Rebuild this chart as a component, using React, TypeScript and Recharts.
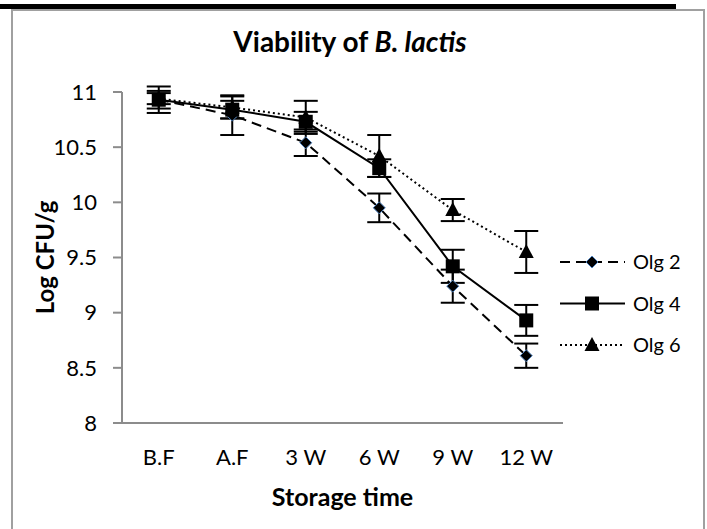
import React from 'react';
import { LineChart, Line, XAxis, YAxis, ErrorBar, Label } from 'recharts';

const categories = ['B.F', 'A.F', '3 W', '6 W', '9 W', '12 W'];
const olg2 = [10.93, 10.79, 10.54, 9.95, 9.24, 8.61];
const olg2Err = [0.12, 0.18, 0.12, 0.13, 0.15, 0.11];
const olg4 = [10.93, 10.84, 10.73, 10.31, 9.42, 8.93];
const olg4Err = [0.08, 0.08, 0.09, 0.08, 0.15, 0.14];
const olg6 = [10.94, 10.86, 10.77, 10.42, 9.93, 9.55];
const olg6Err = [0.05, 0.1, 0.15, 0.19, 0.1, 0.19];
const yTicks = [8, 8.5, 9, 9.5, 10, 10.5, 11];

const data = categories.map((name, i) => ({
  name,
  olg2: olg2[i],
  e2: olg2Err[i],
  olg4: olg4[i],
  e4: olg4Err[i],
  olg6: olg6[i],
  e6: olg6Err[i],
}));

const FONT = 'Lato, "Open Sans", sans-serif';
const AXIS = '#8c8c8c';

const Diamond = ({ cx, cy }: any) => (
  <path d={`M${cx},${cy - 6} L${cx + 6},${cy} L${cx},${cy + 6} L${cx - 6},${cy} Z`} fill="#000" stroke="#4f81bd" strokeWidth={1} />
);
const Square = ({ cx, cy }: any) => (
  <rect x={cx - 7} y={cy - 7} width={14} height={14} fill="#000" />
);
const Triangle = ({ cx, cy }: any) => (
  <path d={`M${cx},${cy - 8} L${cx + 7.5},${cy + 6} L${cx - 7.5},${cy + 6} Z`} fill="#000" />
);

const series = [
  { key: 'olg2', err: 'e2', name: 'Olg 2', dash: '10 6', Marker: Diamond },
  { key: 'olg4', err: 'e4', name: 'Olg 4', dash: undefined, Marker: Square },
  { key: 'olg6', err: 'e6', name: 'Olg 6', dash: '2 3', Marker: Triangle },
];

// legend drawn beside the plot, Excel style
const LegendBox = () => (
  <svg width={140} height={120} style={{ fontFamily: FONT, display: 'block' }}>
    {series.map((s, i) => {
      const y = 17 + i * 41.5;
      const M = s.Marker;
      return (
        <g key={s.key}>
          <line x1={0} x2={65} y1={y} y2={y} stroke="#000" strokeWidth={2} strokeDasharray={s.dash} />
          <M cx={32} cy={y} />
          <text x={73} y={y} dy="0.35em" fontSize={20} fill="#000">{s.name}</text>
        </g>
      );
    })}
  </svg>
);

export default function App() {
  return (
    <div style={{ position: 'absolute', left: 0, top: 0, width: 707, height: 529, background: '#fff', overflow: 'hidden' }}>
      <div style={{ position: 'absolute', left: 0, top: 4, width: 676, height: 5, background: '#000' }} />
      <div style={{ position: 'absolute', left: 11, top: 9, width: 690, height: 540, border: '2px solid #a0a0a0' }} />
      <div
        style={{
          position: 'absolute', left: 0, top: 24, width: 700, textAlign: 'center', lineHeight: 'normal',
          fontFamily: FONT, fontWeight: 'bold', fontSize: 28, color: '#000',
        }}
      >
        Viability of <i>B. lactis</i>
      </div>
      <div style={{ position: 'absolute', left: 0, top: 0 }}>
        <LineChart width={707} height={529} data={data} margin={{ top: 92, right: 144, bottom: 76, left: 12 }}>
          <XAxis
            dataKey="name"
            stroke={AXIS}
            strokeWidth={2}
            tickLine={false}
            tickSize={0}
            tickMargin={26}
            height={30}
            padding={{ left: 36.75, right: 36.75 }}
            tick={{ fill: '#000', fontSize: 22, fontFamily: FONT }}
          >
            <Label value="Storage time" position="bottom" offset={35} fill="#000" fontSize={25} fontWeight="bold" fontFamily={FONT} />
          </XAxis>
          <YAxis
            domain={[8, 11]}
            ticks={yTicks}
            allowDataOverflow
            width={110}
            stroke={AXIS}
            strokeWidth={2}
            tickSize={9}
            tickMargin={16}
            tick={{ fill: '#000', fontSize: 22, fontFamily: FONT }}
          >
            <Label value="Log CFU/g" angle={-90} position="center" dx={-22} fill="#000" fontSize={24} fontWeight="bold" fontFamily={FONT} />
          </YAxis>
          {series.map((s) => (
            <Line
              key={s.key}
              dataKey={s.key}
              name={s.name}
              stroke="#000"
              strokeWidth={2}
              strokeDasharray={s.dash}
              dot={(p: any) => <s.Marker key={`${s.key}-${p.index}`} cx={p.cx} cy={p.cy} />}
              activeDot={false}
              isAnimationActive={false}
            >
              <ErrorBar dataKey={s.err} width={12} stroke="#000" strokeWidth={2} direction="y" />
            </Line>
          ))}
        </LineChart>
      </div>
      <div style={{ position: 'absolute', left: 560, top: 245 }}>
        <LegendBox />
      </div>
    </div>
  );
}
